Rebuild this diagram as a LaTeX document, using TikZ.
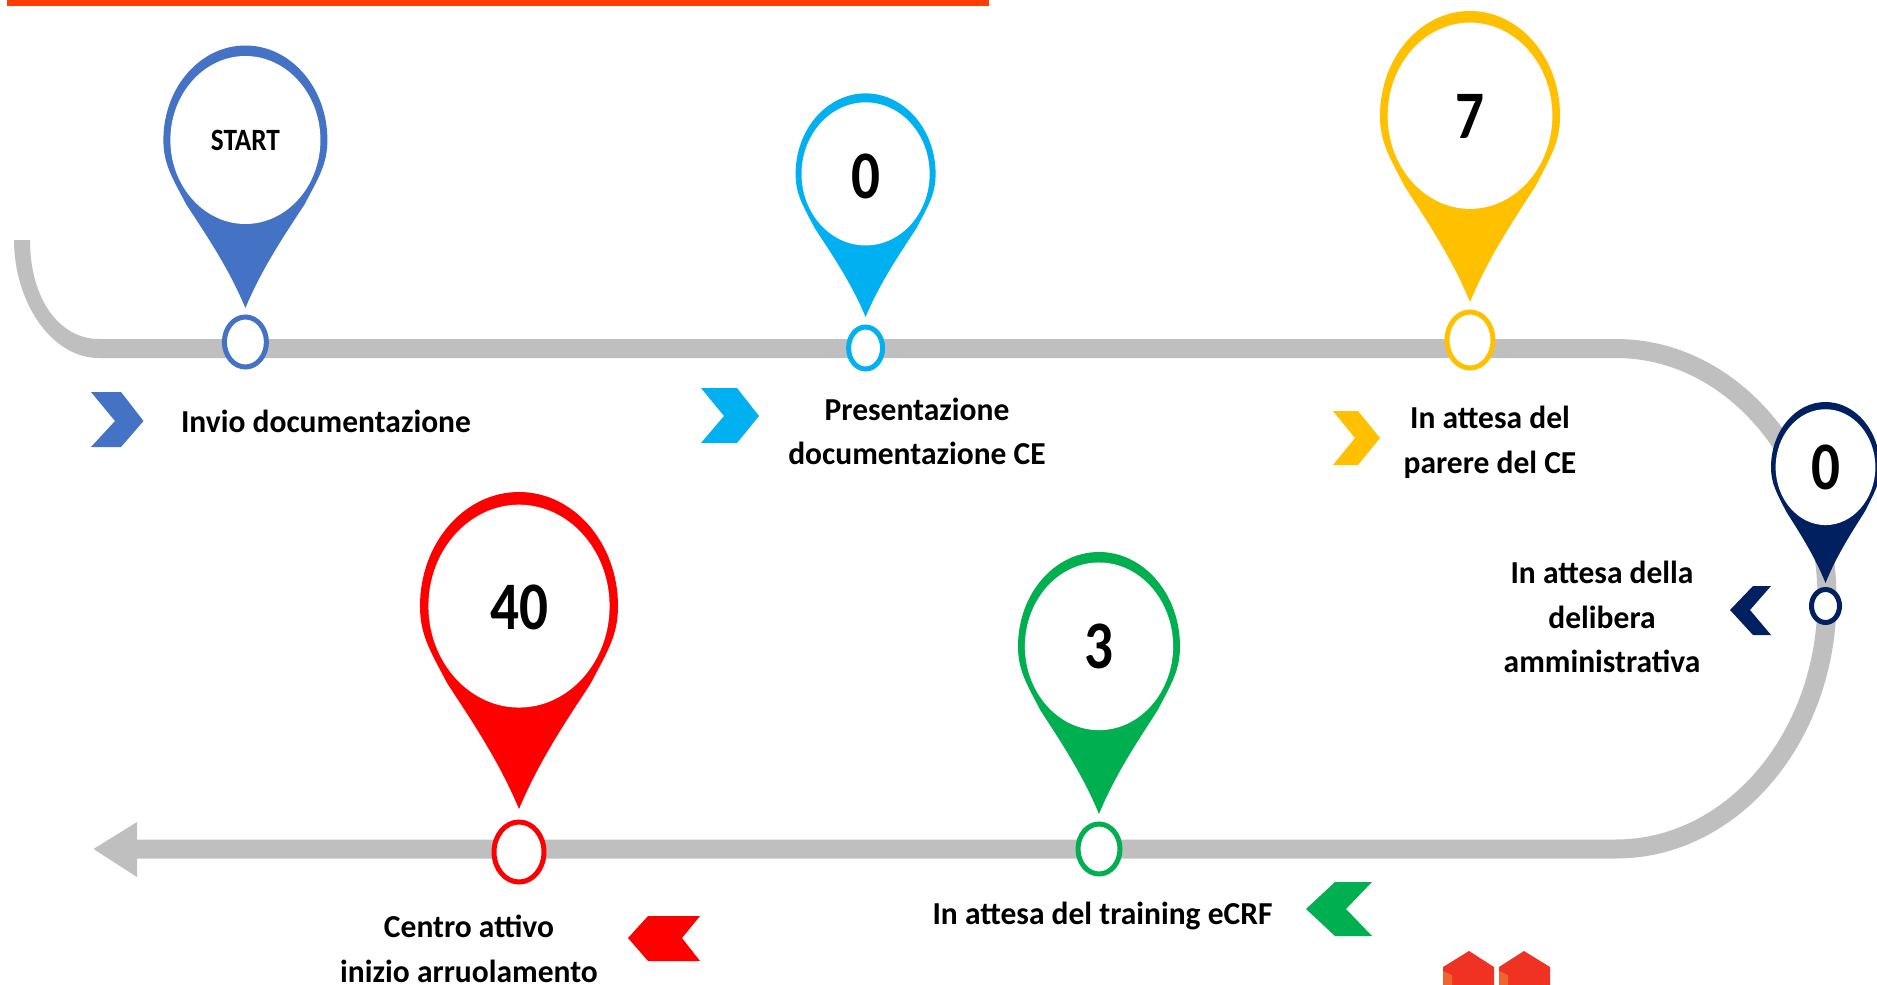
\documentclass[tikz,border=0pt]{standalone}
\usepackage{fontspec}
\setmainfont{Carlito}
\usetikzlibrary{shapes.geometric}
\definecolor{cblue}{HTML}{4472C4}
\definecolor{ccyan}{HTML}{00B0F0}
\definecolor{cyel}{HTML}{FFC000}
\definecolor{cnavy}{HTML}{002060}
\definecolor{cgreen}{HTML}{00B050}
\definecolor{cred}{HTML}{FF0000}
\definecolor{cgrey}{HTML}{BFBFBF}
\definecolor{cbar}{HTML}{FF3D00}
\definecolor{clogo}{HTML}{EF3222}
\definecolor{clogob}{HTML}{F06432}
\tikzset{
  lbl/.style={align=center,font=\fontsize{32}{44.5}\selectfont\bfseries,inner sep=0pt,xscale=.985,transform shape,text=black},
  num/.style={font=\fontsize{68}{68}\selectfont\bfseries,inner sep=0pt,xscale=.84,transform shape,text=black},
  startlbl/.style={font=\fontsize{31}{31}\selectfont\bfseries,inner sep=0pt,xscale=.88,transform shape,text=black},
  ringnode/.style={ellipse,draw=#1,fill=white,line width=5pt,inner sep=0pt},
  track/.style={cgrey,line width=19pt}
}
% name, cx, top, tip, rx, colour
\newcommand{\pinmark}[5]{%
  \begin{scope}[shift={(#1,#2)},xscale=#4,yscale=#3-#2]
    \fill[#5] (-.72,.606) .. controls (-.48,.72) and (-.2,.85) .. (0,1)
       .. controls (.2,.85) and (.48,.72) .. (.72,.606)
       .. controls (.90,.50) and (1,.45) .. (1,.36)
       .. controls (1,.16) and (.55,0) .. (0,0)
       .. controls (-.55,0) and (-1,.16) .. (-1,.36)
       .. controls (-1,.45) and (-.90,.50) .. (-.72,.606) -- cycle;
    \fill[white] (0,.04) .. controls (.50,.04) and (.915,.183) .. (.915,.36)
       .. controls (.915,.537) and (.50,.68) .. (0,.68)
       .. controls (-.50,.68) and (-.915,.537) .. (-.915,.36)
       .. controls (-.915,.183) and (-.50,.04) .. (0,.04) -- cycle;
  \end{scope}}
\begin{document}
\begin{tikzpicture}[x=1pt,y=-1pt]
\useasboundingbox (0,0) rectangle (1877,985);
\fill[white] (0,0) rectangle (1877,985);
\fill[cbar] (7,0) rectangle (989,6);
% track
\fill[cgrey] (14,240) .. controls (14,300) and (50,358) .. (99,358) -- (99,339)
   .. controls (60,339) and (30,300) .. (30,240) -- cycle;
\draw[track] (99,348.5) -- (1616,348.5)
   .. controls (1732.5,348.5) and (1827,460.5) .. (1827,598.75)
   .. controls (1827,737) and (1732.5,849) .. (1616,849) -- (130,849);
\fill[cgrey] (93.5,849) -- (137,822) -- (137,877) -- cycle;
% pins
\pinmark{245.4}{45.5}{308}{82}{cblue}
\pinmark{865.6}{93.4}{317}{70}{ccyan}
\pinmark{1470}{11}{302}{90}{cyel}
\pinmark{1825.5}{402}{583}{54.5}{cnavy}
\pinmark{1099}{552}{814}{81}{cgreen}
\pinmark{519}{492}{809}{99}{cred}
% rings
\node[ringnode=cblue,minimum width=42pt,minimum height=50pt] (r1) at (245.4,342) {};
\node[ringnode=ccyan,minimum width=34pt,minimum height=42pt] (r2) at (865.6,348) {};
\node[ringnode=cyel,minimum width=46pt,minimum height=56pt] (r3) at (1470,340) {};
\node[ringnode=cnavy,minimum width=28pt,minimum height=33pt] (r4) at (1825.5,606) {};
\node[ringnode=cgreen,minimum width=42pt,minimum height=50pt] (r5) at (1099,849) {};
\node[ringnode=cred,minimum width=50pt,minimum height=60pt] (r6) at (519,852) {};
% numbers
\node[startlbl] (n1) at (245.4,140) {START};
\node[num] (n2) at (865.6,176) {0};
\node[num] (n3) at (1470,116) {7};
\node[num] (n4) at (1825.5,467) {0};
\node[num] (n5) at (1099,646) {3};
\node[num] (n6) at (519,607) {40};
% chevrons
\fill[cblue] (91,392) -- (121,392) -- (143.5,421) -- (121,447) -- (91,447) -- (115,421) -- cycle;
\fill[ccyan] (701,388) -- (737,388) -- (759,416) -- (737,443) -- (701,443) -- (724,416) -- cycle;
\fill[cyel] (1333,411) -- (1358,411) -- (1380,438) -- (1358,465) -- (1333,465) -- (1355,438) -- cycle;
\fill[cnavy] (1730,610) -- (1753,586) -- (1771,586) -- (1750,610) -- (1771,635) -- (1753,635) -- cycle;
\fill[cgreen] (1306,909) -- (1335,882) -- (1372,882) -- (1346,909) -- (1372,936) -- (1335,936) -- cycle;
\fill[cred] (628,938) -- (648,916) -- (700,916) -- (682,938) -- (700,961) -- (648,961) -- cycle;
% labels
\node[lbl] (t1) at (326,421) {Invio documentazione};
\node[lbl] (t2) at (917,431.5) {Presentazione\\documentazione CE};
\node[lbl] (t3) at (1490,442.5) {In attesa del\\parere del CE};
\node[lbl] (t4) at (1602,617) {In attesa della\\delibera\\amministrativa};
\node[lbl] (t5) at (1102.5,916) {In attesa del training eCRF};
\node[lbl] (t6) at (469,949) {Centro attivo\\inizio arruolamento};
% logo
\fill[clogo] (1443,967) -- (1469,951) -- (1494,967) -- (1494,985) -- (1443,985) -- cycle;
\fill[clogo] (1499,967) -- (1524,951) -- (1550,967) -- (1550,985) -- (1499,985) -- cycle;
\fill[clogob] (1443,971) -- (1452,975) -- (1452,985) -- (1443,985) -- cycle;
\fill[clogob] (1499,971) -- (1508,975) -- (1508,985) -- (1499,985) -- cycle;
\end{tikzpicture}
\end{document}
